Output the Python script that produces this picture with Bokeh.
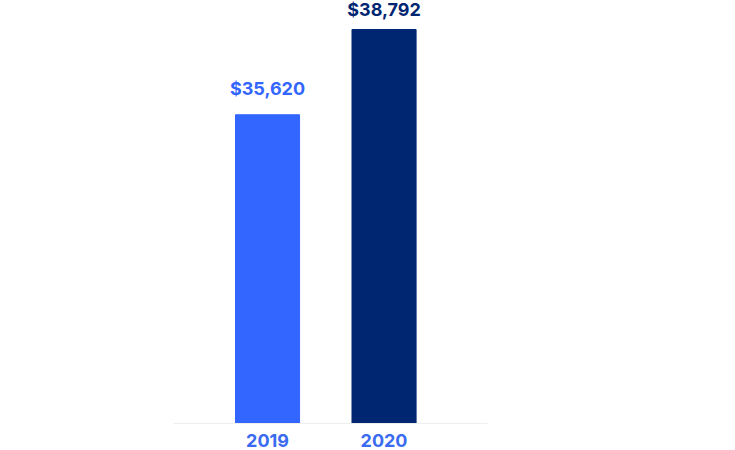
from bokeh.plotting import figure
from bokeh.models import ColumnDataSource, FixedTicker, Range1d
from bokeh.embed import file_html
from bokeh.resources import INLINE

years = ["2019", "2020"]
values = [35620, 38792]
labels = ["$35,620", "$38,792"]
colors = ["#3366FF", "#002672"]
label_offsets = [-16, -10]

positions = list(range(len(years)))

src = ColumnDataSource(dict(x=positions, top=values, color=colors,
                            label=labels, off=label_offsets))

p = figure(output_backend="svg", toolbar_location=None,
           frame_width=314, frame_height=423,
           min_border_left=173, min_border_right=240,
           min_border_top=0, min_border_bottom=0,
           x_range=Range1d(-0.807, 1.888), y_range=Range1d(24130, 39872))

p.vbar(x="x", top="top", bottom=24130, width=0.55, color="color", source=src)

p.text(x="x", y="top", text="label", y_offset="off", source=src,
       text_align="center", text_baseline="bottom",
       text_font={"value": "Inter"}, text_font_style="bold",
       text_font_size="18px", text_color="color")

p.yaxis.visible = False
p.xgrid.visible = False
p.ygrid.visible = False
p.outline_line_color = None

xa = p.xaxis[0]
xa.ticker = FixedTicker(ticks=positions)
xa.major_label_overrides = {i: y for i, y in zip(positions, years)}
xa.axis_line_color = "#EEEEEE"
xa.axis_line_width = 1
xa.major_tick_line_color = None
xa.minor_tick_line_color = None
xa.major_label_standoff = 4
xa.major_label_text_font = "Inter"
xa.major_label_text_font_style = "bold"
xa.major_label_text_font_size = "18px"
xa.major_label_text_color = "#3A6BF0"

open("out.html", "w").write(file_html(p, INLINE))
